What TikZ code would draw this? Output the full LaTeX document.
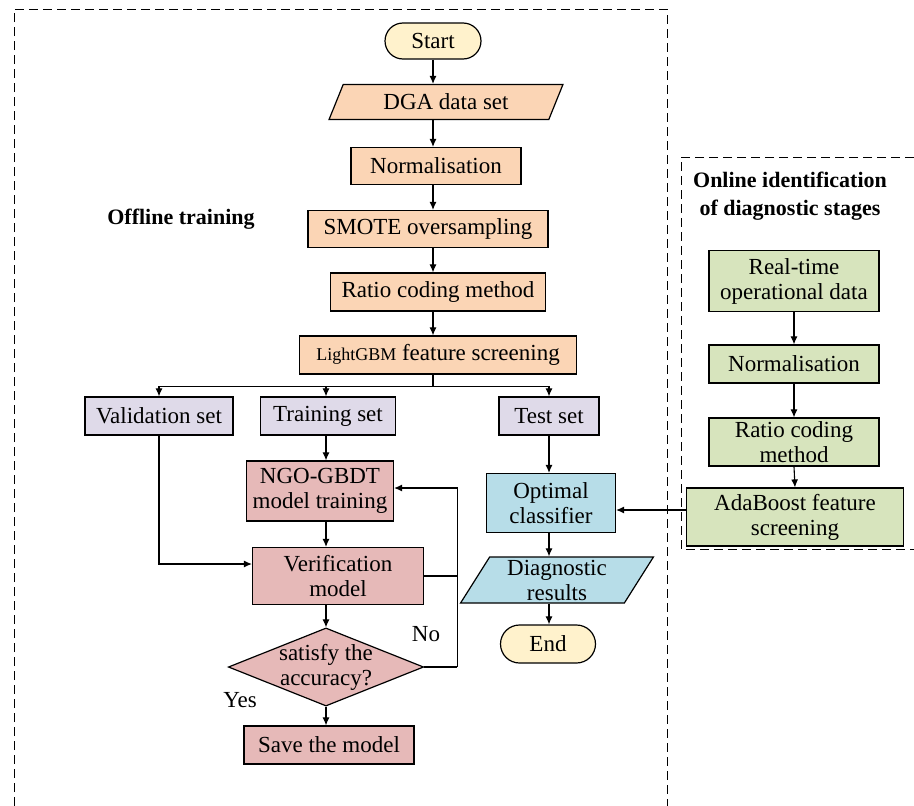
\documentclass[tikz,border=0pt]{standalone}
\usepackage{fontspec}
\setmainfont{Liberation Serif}
\usetikzlibrary{positioning,shapes.geometric,arrows.meta}

\definecolor{startcol}{HTML}{FFF2CC}
\definecolor{prepcol}{HTML}{FBD5B5}
\definecolor{setcol}{HTML}{DFDAE9}
\definecolor{traincol}{HTML}{E6B9B8}
\definecolor{testcol}{HTML}{B7DDE8}
\definecolor{onlinecol}{HTML}{D7E4BD}

\begin{document}
\begin{tikzpicture}[x=1pt,y=-1pt,
    every node/.style={font=\fontsize{23}{25}\selectfont, inner sep=0pt},
    box/.style={draw, line width=1.2pt, minimum height=37pt, align=center},
    term/.style={box, rounded corners=18pt},
    iobox/.style={box, trapezium, trapezium left angle=62, trapezium right angle=118, trapezium stretches=true},
    decide/.style={box, diamond, aspect=2.5, inner sep=-2pt},
    flowarrow/.style={-{Latex[length=8pt,width=7pt]}, line width=1.1pt},
    link/.style={line width=1.1pt},
    stageframe/.style={line width=1pt, dash pattern=on 9pt off 5pt},
    stagetitle/.style={font=\bfseries\fontsize{22}{28}\selectfont, align=center}]
            \useasboundingbox (0,0) rectangle (914,806);

            %Frames
            \draw[stageframe] (14,806) -- (14,9) -- (667,9) -- (667,806);
            \draw[stageframe] (914,157) -- (681,157) -- (681,549) -- (914,549);

            %Nodes
            \node[stagetitle] at (181,219) (offline) {Offline training};
            \node[stagetitle] at (790,196) (online) {Online identification\\of diagnostic stages};

            \node[term, fill=startcol, minimum width=96pt, minimum height=36pt] at (433,41) (start) {Start};
            \node[iobox, fill=prepcol, minimum width=234pt, minimum height=35pt] at (446,102) (dga) {DGA data set};
            \node[box, fill=prepcol, minimum width=170pt] at (436,166) (norm) {Normalisation};
            \node[box, fill=prepcol, minimum width=240pt] at (428,229) (smote) {SMOTE oversampling};
            \node[box, fill=prepcol, minimum width=215pt, minimum height=38pt] at (438,292) (ratio) {Ratio coding method};
            \node[box, fill=prepcol, minimum width=277pt, minimum height=38pt] at (438,355) (lgbm) {{\fontsize{18}{20}\selectfont LightGBM} feature screening};

            \node[box, fill=setcol, minimum width=148pt, minimum height=38pt] at (159,416) (val) {Validation set};
            \node[box, fill=setcol, minimum width=135pt, minimum height=38pt] at (328,416) (train) {Training set};
            \node[box, fill=setcol, minimum width=100pt, minimum height=38pt] at (549,416) (test) {Test set};

            \node[box, fill=traincol, minimum width=147pt, minimum height=60pt] at (320,491) (ngo) {NGO-GBDT\\model training};
            \node[box, fill=traincol, minimum width=171pt, minimum height=57pt] at (338,576) (verif) {Verification\\model};
            \node[decide, fill=traincol] at (326,667) (check) {satisfy the\\accuracy?};
            \node[box, fill=traincol, minimum width=170pt, minimum height=38pt] at (329,745) (save) {Save the model};
            \node at (426,634) (no) {No};
            \node at (240,700) (yes) {Yes};

            \node[box, fill=testcol, minimum width=129pt, minimum height=59pt] at (551,503) (optimal) {Optimal\\classifier};
            \node[iobox, fill=testcol, minimum width=193pt, minimum height=46pt] at (557,580) (diag) {Diagnostic\\results};
            \node[term, fill=startcol, minimum width=95pt, minimum height=38pt, rounded corners=19pt] at (548,644) (end) {End};

            \node[box, fill=onlinecol, minimum width=170pt, minimum height=61pt] at (794,281) (realtime) {Real-time\\operational data};
            \node[box, fill=onlinecol, minimum width=170pt, minimum height=38pt] at (794,364) (norm2) {Normalisation};
            \node[box, fill=onlinecol, minimum width=170pt, minimum height=48pt] at (794,442) (ratio2) {Ratio coding\\method};
            \node[box, fill=onlinecol, minimum width=217pt, minimum height=58pt] at (795,517) (ada) {AdaBoost feature\\screening};

            %Lines
            \draw[flowarrow] (start.south) -- (start.south |- dga.north);
            \draw[flowarrow] (start.south |- dga.south) -- (start.south |- norm.north);
            \draw[flowarrow] (start.south |- norm.south) -- (start.south |- smote.north);
            \draw[flowarrow] (start.south |- smote.south) -- (start.south |- ratio.north);
            \draw[flowarrow] (start.south |- ratio.south) -- (start.south |- lgbm.north);

            \draw[link] (start.south |- lgbm.south) -- ++(0,12) coordinate (split);
            \draw[flowarrow] (split) -| (val.north);
            \draw[flowarrow] (split) -| (check.north |- train.north);
            \draw[flowarrow] (split) -| (test.north);

            \draw[flowarrow] (check.north |- train.south) -- (check.north |- ngo.north);
            \draw[flowarrow] (check.north |- ngo.south) -- (check.north |- verif.north);
            \draw[flowarrow] (check.north |- verif.south) -- (check.north);
            \draw[flowarrow] (check.south) -- (check.south |- save.north);
            \draw[flowarrow] (val.south) |- ([yshift=12pt]verif.west);

            \draw[link] (check.east) -- ++(33,0) coordinate (loop);
            \draw[flowarrow] (loop) |- ([yshift=3pt]ngo.east);
            \draw[link] (verif.east) -- (verif.east -| loop);

            \draw[flowarrow] (test.south) -- (test.south |- optimal.north);
            \draw[flowarrow] (test.south |- optimal.south) -- (test.south |- diag.north);
            \draw[flowarrow] (test.south |- diag.south) -- (test.south |- end.north);

            \draw[flowarrow] (realtime.south) -- (norm2.north);
            \draw[flowarrow] (norm2.south) -- (ratio2.north);
            \draw[flowarrow] (ratio2.south) -- (ada.north);
            \draw[flowarrow] ([yshift=7pt]ada.west) -- ([yshift=7pt]ada.west -| optimal.east);
        \end{tikzpicture}
\end{document}
